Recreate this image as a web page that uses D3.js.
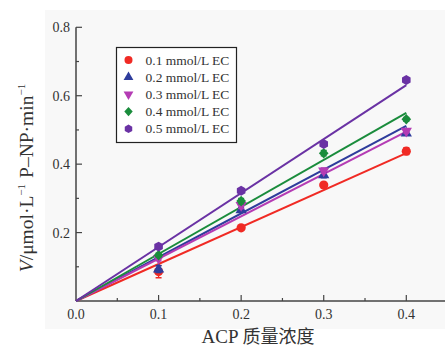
<!DOCTYPE html>
<html>
<head>
<meta charset="utf-8">
<script src="https://cdn.jsdelivr.net/npm/d3@7"></script>
<style>
  body { margin: 0; background: #fff; }
  svg { display: block; }
  text { font-family: "Liberation Serif", "DejaVu Serif", serif; fill: #333; }
</style>
</head>
<body>
<div id="chart"></div>
<script>
// Data
const xValues = [0.1, 0.2, 0.3, 0.4];
const seriesNames = ["0.1 mmol/L EC", "0.2 mmol/L EC", "0.3 mmol/L EC", "0.4 mmol/L EC", "0.5 mmol/L EC"];
const seriesColors = ["#f02a24", "#2e3c9c", "#b43cb4", "#1a8c3c", "#6a32a4"];
const seriesSymbols = ["circle", "triangle", "triangleDown", "diamond", "hexagon"];
const values01 = [0.086, 0.214, 0.339, 0.438];
const values02 = [0.093, 0.266, 0.368, 0.490];
const values03 = [0.125, 0.280, 0.381, 0.497];
const values04 = [0.134, 0.292, 0.432, 0.531];
const values05 = [0.159, 0.322, 0.459, 0.646];
const errors01 = [0.018, 0.006, 0.006, 0.010];
const errors02 = [0.010, 0.006, 0.008, 0.006];
const errors03 = [0.008, 0.010, 0.008, 0.006];
const errors04 = [0.006, 0.008, 0.008, 0.006];
const errors05 = [0.006, 0.006, 0.006, 0.006];
// fitted line value at x = 0.4 (lines pass through origin)
const fitEnd = [0.432, 0.512, 0.495, 0.550, 0.631];
const xTicks = [0.0, 0.1, 0.2, 0.3, 0.4];
const yTicks = [0.2, 0.4, 0.6, 0.8];

const allValues = [values01, values02, values03, values04, values05];
const allErrors = [errors01, errors02, errors03, errors04, errors05];

const width = 445;
const height = 348;

const svg = d3.select("#chart")
    .append("svg")
    .attr("width", width)
    .attr("height", height);

// light gray panel behind the plot
svg.append("rect")
    .attr("x", 45).attr("y", 10)
    .attr("width", 400).attr("height", 319)
    .attr("fill", "#f8f8f8");

const x = d3.scaleLinear().domain([0, 0.4]).range([76, 406.3]);
const y = d3.scaleLinear().domain([0, 0.8]).range([301, 27.3]);

// X axis
const xAxis = svg.append("g").attr("transform", `translate(0,${y(0)})`);
xAxis.append("line")
    .attr("x1", x(0)).attr("x2", 445)
    .attr("stroke", "#444").attr("stroke-width", 1.5);
xAxis.selectAll(".major")
    .data(xTicks.slice(1))
    .enter().append("line")
    .attr("x1", d => x(d)).attr("x2", d => x(d))
    .attr("y1", 0).attr("y2", -6)
    .attr("stroke", "#444").attr("stroke-width", 1.2);
xAxis.selectAll(".minor")
    .data([0.05, 0.15, 0.25, 0.35, 0.45])
    .enter().append("line")
    .attr("x1", d => x(d)).attr("x2", d => x(d))
    .attr("y1", 0).attr("y2", -3)
    .attr("stroke", "#444").attr("stroke-width", 1.2);
xAxis.selectAll("text")
    .data(xTicks)
    .enter().append("text")
    .attr("x", d => x(d))
    .attr("y", 18)
    .attr("text-anchor", "middle")
    .attr("font-size", 14)
    .text(d => d3.format(".1f")(d));

// Y axis
const yAxis = svg.append("g").attr("transform", `translate(${x(0)},0)`);
yAxis.append("line")
    .attr("y1", y(0)).attr("y2", y(0.8))
    .attr("stroke", "#444").attr("stroke-width", 1.5);
yAxis.selectAll(".major")
    .data(yTicks)
    .enter().append("line")
    .attr("y1", d => y(d)).attr("y2", d => y(d))
    .attr("x1", 0).attr("x2", 6)
    .attr("stroke", "#444").attr("stroke-width", 1.2);
yAxis.selectAll(".minor")
    .data([0.1, 0.3, 0.5, 0.7])
    .enter().append("line")
    .attr("y1", d => y(d)).attr("y2", d => y(d))
    .attr("x1", 0).attr("x2", 3)
    .attr("stroke", "#444").attr("stroke-width", 1.2);
yAxis.selectAll("text")
    .data(yTicks)
    .enter().append("text")
    .attr("x", -6)
    .attr("y", d => y(d) + 5)
    .attr("text-anchor", "end")
    .attr("font-size", 14)
    .text(d => d3.format(".1f")(d));

// Fitted lines
const plot = svg.append("g");
seriesNames.forEach((name, i) => {
    plot.append("line")
        .attr("x1", x(0)).attr("y1", y(0))
        .attr("x2", x(0.4)).attr("y2", y(fitEnd[i]))
        .attr("stroke", seriesColors[i])
        .attr("stroke-width", 2);
});

// Symbols
function symbolPath(kind, r) {
    if (kind === "circle") return d3.symbol(d3.symbolCircle, Math.PI * r * r)();
    if (kind === "triangle") return d3.symbol(d3.symbolTriangle, r * r * 2.6)();
    if (kind === "triangleDown") return d3.symbol(d3.symbolTriangle, r * r * 2.6)();
    if (kind === "diamond") return `M0,${-r * 1.15}L${r * 1.05},0L0,${r * 1.15}L${-r * 1.05},0Z`;
    if (kind === "hexagon") {
        const pts = d3.range(6).map(k => {
            const a = Math.PI / 3 * k + Math.PI / 6;
            return [r * 1.08 * Math.cos(a), r * 1.08 * Math.sin(a)];
        });
        return "M" + pts.map(p => p.join(",")).join("L") + "Z";
    }
}

seriesNames.forEach((name, i) => {
    const g = plot.append("g");
    const pts = xValues.map((xv, j) => ({x: xv, v: allValues[i][j], e: allErrors[i][j]}));
    // error bars
    g.selectAll(".err")
        .data(pts)
        .enter().append("path")
        .attr("d", d => {
            const cx = x(d.x), t = y(d.v + d.e), b = y(d.v - d.e);
            return `M${cx},${t}V${b}M${cx - 3},${t}H${cx + 3}M${cx - 3},${b}H${cx + 3}`;
        })
        .attr("stroke", seriesColors[i])
        .attr("stroke-width", 1.3)
        .attr("fill", "none");
    g.selectAll(".pt")
        .data(pts)
        .enter().append("path")
        .attr("d", symbolPath(seriesSymbols[i], 4.6))
        .attr("transform", d => `translate(${x(d.x)},${y(d.v)})` +
            (seriesSymbols[i] === "triangleDown" ? " rotate(180)" : ""))
        .attr("fill", seriesColors[i]);
});

// Legend
const legend = svg.append("g");
legend.append("rect")
    .attr("x", 116.5).attr("y", 47.5)
    .attr("width", 120).attr("height", 95)
    .attr("fill", "#fff")
    .attr("stroke", "#222")
    .attr("stroke-width", 1.2);
seriesNames.forEach((name, i) => {
    const ly = 60 + i * 17.2;
    legend.append("path")
        .attr("d", symbolPath(seriesSymbols[i], 4))
        .attr("transform", `translate(128.5,${ly})` +
            (seriesSymbols[i] === "triangleDown" ? " rotate(180)" : ""))
        .attr("fill", seriesColors[i]);
    legend.append("text")
        .attr("x", 145.5)
        .attr("y", ly + 4.5)
        .attr("font-size", 13.5)
        .attr("fill", "#222")
        .text(name);
});

// Axis titles
svg.append("text")
    .attr("x", 258)
    .attr("y", 343)
    .attr("text-anchor", "middle")
    .attr("font-size", 19)
    .attr("fill", "#222")
    .call(t => {
        t.append("tspan").text("ACP ");
        t.append("tspan").attr("font-family", "Noto Sans CJK SC").attr("font-size", 18).text("质量浓度");
    });

const yTitle = svg.append("text")
    .attr("transform", "translate(33,178) rotate(-90)")
    .attr("text-anchor", "middle")
    .attr("font-size", 19.5)
    .attr("fill", "#222");
yTitle.append("tspan").attr("font-style", "italic").text("V");
yTitle.append("tspan").text("/μmol·L");
yTitle.append("tspan").attr("font-size", 11).attr("dy", -8).text("−1");
yTitle.append("tspan").attr("dy", 8).attr("dx", 6).text("P–NP·min");
yTitle.append("tspan").attr("font-size", 11).attr("dy", -8).text("−1");
</script>
</body>
</html>
